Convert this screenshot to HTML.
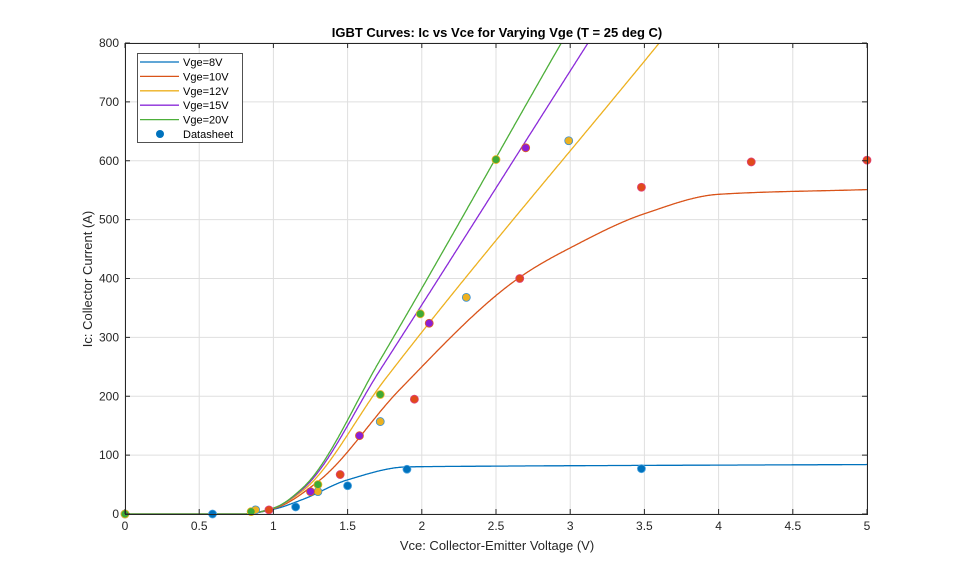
<!DOCTYPE html>
<html><head><meta charset="utf-8"><style>
body{margin:0;background:#fff;}
svg text{font-family:"Liberation Sans",Arial,sans-serif;}
</style></head><body>
<svg id="s" width="959" height="577" xmlns="http://www.w3.org/2000/svg">
<defs><clipPath id="cp"><rect x="125" y="43" width="742" height="471"/></clipPath></defs>
<rect width="959" height="577" fill="#fff"/>
<g id="grid" stroke="#dfdfdf" stroke-width="1"></g>
<g id="curves" fill="none" stroke-width="1.3" clip-path="url(#cp)"></g>
<g id="pts"></g>
<rect x="125.5" y="43.5" width="742" height="471" fill="none" stroke="#262626" stroke-width="1"/>
<g id="ticks" stroke="#262626"></g>
<g id="labels" font-size="12" fill="#262626"></g>
<text x="497" y="37" font-size="13" font-weight="bold" text-anchor="middle" fill="#000">IGBT Curves: Ic vs Vce for Varying Vge  (T = 25 deg C)</text>
<text x="497" y="550" font-size="13" text-anchor="middle" fill="#262626">Vce: Collector-Emitter Voltage (V)</text>
<text transform="translate(92,279) rotate(-90)" font-size="13" text-anchor="middle" fill="#262626">Ic: Collector Current (A)</text>
<g id="legend">
<rect x="137.5" y="53.5" width="105" height="89" fill="#fff" stroke="#262626" stroke-width="0.8"/>
</g>
</svg>
<script>
const NS="http://www.w3.org/2000/svg";
const X=v=>125+v*148.4, Y=i=>514-i*0.58875;
function el(p,t,a,txt){const e=document.createElementNS(NS,t);for(const k in a)e.setAttribute(k,a[k]);if(txt!==undefined)e.textContent=txt;document.getElementById(p).appendChild(e);return e;}
for(let i=0;i<=10;i++){const x=X(i*0.5);el('grid','line',{x1:x,x2:x,y1:43,y2:514});el('ticks','line',{x1:x,x2:x,y1:514,y2:509});el('ticks','line',{x1:x,x2:x,y1:43,y2:48});
el('labels','text',{x:x,y:530,'text-anchor':'middle'},String(i*0.5));}
for(let j=0;j<=8;j++){const y=Y(j*100);el('grid','line',{x1:125,x2:867,y1:y,y2:y});el('ticks','line',{x1:125,x2:130,y1:y,y2:y});el('ticks','line',{x1:862,x2:867,y1:y,y2:y});
el('labels','text',{x:119,y:y+4,'text-anchor':'end'},String(j*100));}
const C=['#0072BD','#D95319','#EDB120','#8B2BD9','#4DAF3A'];
const K=[
[[0,0],[0.8,0],[1,8],[1.2,25],[1.5,58],[1.9,80],[2.3,81],[5,84]],
[[0,0],[0.8,0],[1,9],[1.3,55],[1.85,211],[2.66,402],[3.0,452],[3.5,510],[4.0,543],[5,551]],
[[0,0],[0.8,0],[1,10],[1.2,40],[1.75,228],[3.6,800],[3.8,862]],
[[0,0],[0.8,0],[1,10],[1.2,43],[1.72,245],[3.12,800],[3.3,871]],
[[0,0],[0.8,0],[1,10],[1.2,45],[1.72,262],[2.94,800],[3.1,870]]];
function mono(a){const n=a.length,h=[],s=[],m=[];
for(let i=0;i<n-1;i++){h[i]=a[i+1][0]-a[i][0];s[i]=(a[i+1][1]-a[i][1])/h[i];}
m[0]=s[0];m[n-1]=s[n-2];
for(let i=1;i<n-1;i++){if(s[i-1]*s[i]<=0)m[i]=0;else{const w1=2*h[i]+h[i-1],w2=h[i]+2*h[i-1];m[i]=(w1+w2)/(w1/s[i-1]+w2/s[i]);}}
return v=>{let i=0;while(i<n-2&&v>a[i+1][0])i++;const t=(v-a[i][0])/h[i],t2=t*t,t3=t2*t;
return (2*t3-3*t2+1)*a[i][1]+(t3-2*t2+t)*h[i]*m[i]+(-2*t3+3*t2)*a[i+1][1]+(t3-t2)*h[i]*m[i+1];};}
K.forEach((a,k)=>{const f=mono(a),vmax=a[a.length-1][0];let d='';
for(let v=0;v<=vmax+1e-9;v+=0.005){d+=(d?'L':'M')+X(v).toFixed(1)+','+Y(f(v)).toFixed(1);}
el('curves','path',{d:d,stroke:C[k]});});
const E=['#4AA3E0','#E0407A','#3A8FD0','#E06020','#EDB120'];
const P=[[[0,0],[0.59,0],[1.15,12],[1.5,48],[1.9,76],[3.48,77]],
[[0.97,7],[1.45,67],[1.95,195],[2.66,400],[3.48,555],[4.22,598],[5,601]],
[[0.88,7],[1.3,38],[1.72,157],[2.3,368],[2.99,634]],
[[1.25,38],[1.58,133],[2.05,324],[2.7,622]],
[[0,0],[0.85,4],[1.3,50],[1.72,203],[1.99,340],[2.5,602]]];
const PF=['#0072BD','#E04A1A','#EDB120','#8B1FD6','#3FAA35'];
P.forEach((a,k)=>a.forEach(p=>el('pts','circle',{cx:X(p[0]),cy:Y(p[1]),r:4,fill:PF[k],stroke:E[k],'stroke-width':0.8})));
const names=['Vge=8V','Vge=10V','Vge=12V','Vge=15V','Vge=20V','Datasheet'];
names.forEach((n,k)=>{const y=62+k*14.4;
if(k<5)el('legend','line',{x1:140,x2:179,y1:y,y2:y,stroke:C[k],'stroke-width':1.3});else el('legend','circle',{cx:160,cy:y,r:4,fill:C[0]});
el('legend','text',{x:183,y:y+4,'font-size':11,fill:'#000'},n);});
</script>
</body></html>
